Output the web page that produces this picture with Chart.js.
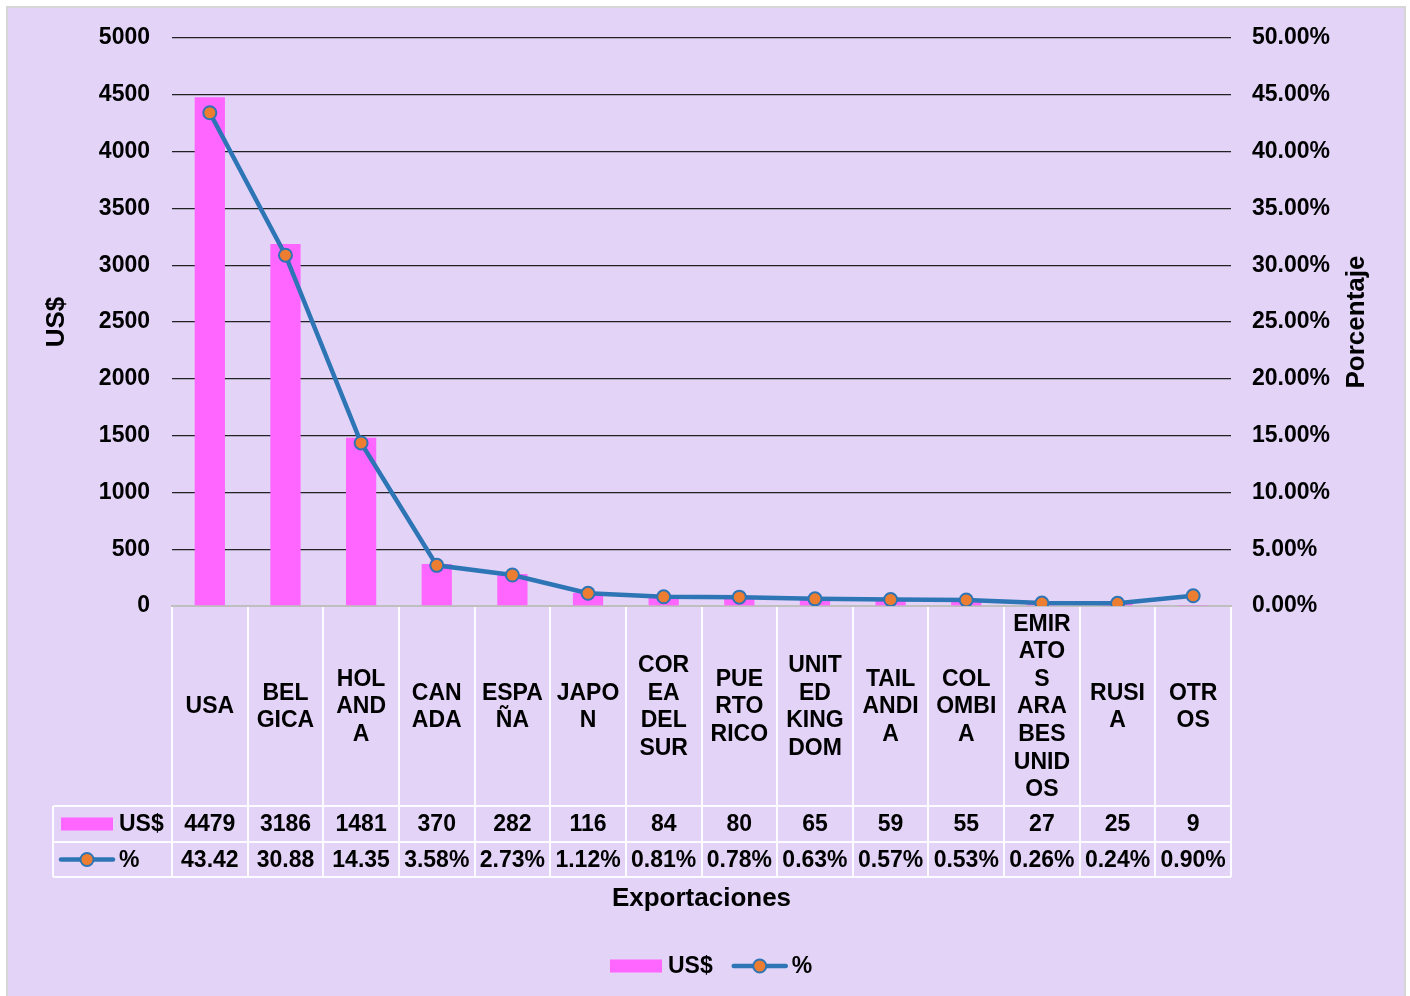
<!DOCTYPE html>
<html>
<head>
<meta charset="utf-8">
<script src="https://cdn.jsdelivr.net/npm/chart.js@4.4.1/dist/chart.umd.min.js"></script>
<style>
  html, body { margin: 0; padding: 0; background: #fff; }
  #wrap { position: relative; width: 1410px; height: 996px; }
</style>
</head>
<body>
<div id="wrap"><canvas id="chart"></canvas></div>
<script>
// Category names, already split into the lines shown in the table cells
const categories = [
  ["USA"], ["BEL", "GICA"], ["HOL", "AND", "A"], ["CAN", "ADA"], ["ESPA", "ÑA"],
  ["JAPO", "N"], ["COR", "EA", "DEL", "SUR"], ["PUE", "RTO", "RICO"],
  ["UNIT", "ED", "KING", "DOM"], ["TAIL", "ANDI", "A"], ["COL", "OMBI", "A"],
  ["EMIR", "ATO", "S", "ARA", "BES", "UNID", "OS"], ["RUSI", "A"], ["OTR", "OS"]
];
// Export value in US$ per destination
const usdValues = [4479, 3186, 1481, 370, 282, 116, 84, 80, 65, 59, 55, 27, 25, 9];
// Share of total exports, in percent
const pctValues = [43.42, 30.88, 14.35, 3.58, 2.73, 1.12, 0.81, 0.78, 0.63, 0.57, 0.53, 0.26, 0.24, 0.90];

const seriesNames = ["US$", "%"];
const axisTitles = { left: "US$", right: "Porcentaje", bottom: "Exportaciones" };

const FONT_FAMILY = '"Liberation Sans", Arial, sans-serif';
const TXT = 'bold 23px ' + FONT_FAMILY;
const TITLE = 'bold 26px ' + FONT_FAMILY;
const BAR_COLOR = '#FF66FF';
const LINE_COLOR = '#2E75B6';
const MARKER_COLOR = '#ED7D31';
const PANEL = '#E2D3F7';

function drawBarKey(ctx, x, y) {
  ctx.fillStyle = BAR_COLOR;
  ctx.fillRect(x, y - 6.5, 52, 13);
}
function drawLineKey(ctx, x, y) {
  ctx.strokeStyle = LINE_COLOR;
  ctx.lineWidth = 4.5;
  ctx.lineCap = 'round';
  ctx.beginPath();
  ctx.moveTo(x + 2, y);
  ctx.lineTo(x + 54, y);
  ctx.stroke();
  ctx.beginPath();
  ctx.arc(x + 28, y, 6.5, 0, Math.PI * 2);
  ctx.fillStyle = MARKER_COLOR;
  ctx.fill();
  ctx.lineWidth = 2;
  ctx.stroke();
}

const chartDecor = {
  id: 'chartDecor',
  beforeDraw(chart) {
    const { ctx, width, height } = chart;
    ctx.save();
    ctx.fillStyle = '#fff';
    ctx.fillRect(0, 0, width, height);
    ctx.fillStyle = PANEL;
    ctx.fillRect(8, 8, width - 14, height - 8);
    ctx.strokeStyle = '#D6D6D6';
    ctx.lineWidth = 2;
    ctx.strokeRect(7, 7, width - 12, height + 4);
    ctx.restore();
  },
  afterDraw(chart) {
    const { ctx, chartArea: area, scales } = chart;
    const xs = scales.x;
    const n = categories.length;
    const colW = (area.right - area.left) / n;
    const catTop = area.bottom;
    const catBottom = catTop + 200;
    const valBottom = catBottom + 36;
    const pctBottom = valBottom + 35;
    const keyLeft = 53;

    ctx.save();
    // table grid
    ctx.strokeStyle = 'rgba(255,255,255,0.9)';
    ctx.lineWidth = 2;
    ctx.beginPath();
    for (let k = 0; k <= n; k++) {
      const x = Math.round(area.left + k * colW);
      ctx.moveTo(x, catTop + 1);
      ctx.lineTo(x, pctBottom);
    }
    ctx.moveTo(keyLeft, catBottom);
    ctx.lineTo(keyLeft, pctBottom);
    [catBottom, valBottom, pctBottom].forEach(y => {
      ctx.moveTo(keyLeft, y);
      ctx.lineTo(area.right, y);
    });
    ctx.stroke();

    // table text
    ctx.fillStyle = '#000';
    ctx.font = TXT;
    ctx.textAlign = 'center';
    ctx.textBaseline = 'middle';
    const lineH = 27.6;
    const catMid = (catTop + catBottom) / 2;
    const valMid = (catBottom + valBottom) / 2;
    const pctMid = (valBottom + pctBottom) / 2;
    categories.forEach((lines, i) => {
      const cx = xs.getPixelForValue(i);
      lines.forEach((t, k) => {
        ctx.fillText(t, cx, catMid + (k - (lines.length - 1) / 2) * lineH + 1);
      });
      ctx.fillText(String(usdValues[i]), cx, valMid + 1);
      let p = pctValues[i].toFixed(2) + '%';
      if (ctx.measureText(p).width > colW - 4) p = pctValues[i].toFixed(2);
      ctx.fillText(p, cx, pctMid + 1);
    });

    // series keys in the table
    drawBarKey(ctx, 61, valMid);
    drawLineKey(ctx, 59, pctMid);
    ctx.fillStyle = '#000';
    ctx.textAlign = 'left';
    ctx.fillText(seriesNames[0], 119, valMid + 1);
    ctx.fillText(seriesNames[1], 119, pctMid + 1);

    // axis titles
    ctx.font = TITLE;
    ctx.textAlign = 'center';
    const midY = (area.top + area.bottom) / 2;
    [[57, axisTitles.left], [1357, axisTitles.right]].forEach(([x, t]) => {
      ctx.save();
      ctx.translate(x, midY);
      ctx.rotate(-Math.PI / 2);
      ctx.fillText(t, 0, 0);
      ctx.restore();
    });
    ctx.fillText(axisTitles.bottom, (area.left + area.right) / 2, pctBottom + 22);

    // legend
    ctx.font = TXT;
    ctx.textAlign = 'left';
    const ly = 966;
    const lx = 610;
    drawBarKey(ctx, lx, ly);
    ctx.fillStyle = '#000';
    ctx.fillText(seriesNames[0], lx + 58, ly + 1);
    const w0 = ctx.measureText(seriesNames[0]).width;
    const l2 = lx + 58 + w0 + 19;
    drawLineKey(ctx, l2, ly);
    ctx.fillStyle = '#000';
    ctx.fillText(seriesNames[1], l2 + 60, ly + 1);
    ctx.restore();
  }
};

const tickFont = { family: FONT_FAMILY, size: 23, weight: 'bold' };

new Chart(document.getElementById('chart'), {
  type: 'bar',
  data: {
    labels: categories,
    datasets: [
      {
        type: 'line',
        label: seriesNames[1],
        data: pctValues,
        yAxisID: 'yPct',
        order: 0,
        borderColor: LINE_COLOR,
        borderWidth: 4.5,
        tension: 0,
        pointRadius: 6.5,
        pointBorderWidth: 2,
        pointBackgroundColor: MARKER_COLOR,
        pointBorderColor: LINE_COLOR
      },
      {
        type: 'bar',
        label: seriesNames[0],
        data: usdValues,
        yAxisID: 'y',
        order: 1,
        backgroundColor: BAR_COLOR,
        barPercentage: 0.4,
        categoryPercentage: 1
      }
    ]
  },
  options: {
    responsive: true,
    maintainAspectRatio: false,
    animation: false,
    layout: { padding: { left: 0, right: 0, top: 38, bottom: 390 } },
    plugins: { legend: { display: false }, tooltip: { enabled: false } },
    scales: {
      x: {
        offset: true,
        grid: { display: false },
        ticks: { display: false },
        border: { display: true, color: '#BFBFBF', width: 2 },
        afterFit(s) { s.height = 0; }
      },
      y: {
        position: 'left',
        min: 0, max: 5000,
        ticks: { stepSize: 500, padding: 22, color: '#000', font: tickFont, callback: v => String(v) },
        grid: {
          drawTicks: false,
          lineWidth: 1.3,
          color: c => (c.tick && c.tick.value === 0 ? 'rgba(0,0,0,0)' : '#222')
        },
        border: { display: false },
        afterFit(s) { s.width = 172; }
      },
      yPct: {
        position: 'right',
        min: 0, max: 50,
        ticks: {
          stepSize: 5, padding: 21, color: '#000', font: tickFont,
          callback: v => v.toFixed(2) + '%'
        },
        grid: { display: false, drawTicks: false },
        border: { display: false },
        afterFit(s) { s.width = 179; }
      }
    }
  },
  plugins: [chartDecor]
});
</script>
</body>
</html>
